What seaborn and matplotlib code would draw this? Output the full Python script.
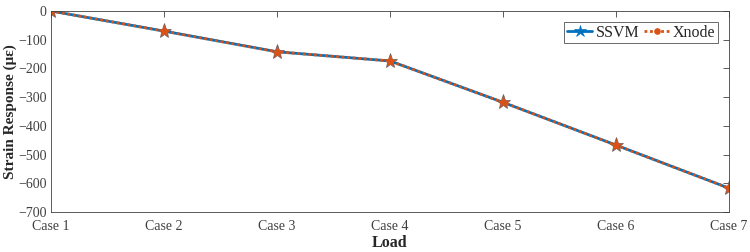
import pandas as pd
import numpy as np
import matplotlib
matplotlib.use('Agg')
import matplotlib.pyplot as plt
import seaborn as sns

sns.set_style('white')
plt.rcParams['font.family'] = ['Liberation Serif', 'DejaVu Serif']

# data
cases = ['Case 1', 'Case 2', 'Case 3', 'Case 4', 'Case 5', 'Case 6', 'Case 7']
ssvm = [0, -70, -142, -174, -318, -467, -617]
xnode = [0, -70, -142, -174, -318, -467, -617]

df = pd.DataFrame({
    'Load': list(range(len(cases))) * 2,
    'Strain': ssvm + xnode,
    'Method': ['SSVM'] * len(cases) + ['Xnode'] * len(cases),
})

fig = plt.figure(figsize=(7.5, 2.52), dpi=100)
ax = fig.add_axes([51 / 750, 1 - 212 / 252, (729 - 51) / 750, (212 - 11) / 252])

palette = {'SSVM': '#0072BD', 'Xnode': '#D95319'}
sns.lineplot(data=df, x='Load', y='Strain', hue='Method', style='Method',
             palette=palette, markers={'SSVM': '*', 'Xnode': 'o'},
             dashes={'SSVM': '', 'Xnode': (1, 1)}, linewidth=2,
             markersize=7, markeredgecolor=None, ax=ax)
# markers look orange with a thin dark rim in the reference
for line in ax.get_lines():
    if line.get_marker() == '*':
        line.set_markersize(11)
        line.set_markerfacecolor('#D95319')
        line.set_markeredgecolor('#6a5a5a')
        line.set_markeredgewidth(0.5)
    elif line.get_marker() == 'o':
        line.set_markersize(4)
        line.set_markerfacecolor('#D95319')
        line.set_markeredgecolor('#D95319')

ax.set_xlim(0, len(cases) - 1)
ax.set_ylim(-700, 0)
ax.set_xticks(range(len(cases)))
ax.set_xticklabels(cases)
ax.set_yticks(np.arange(-700, 1, 100))
ax.set_xlabel('Load', fontsize=11.5, fontweight='bold', labelpad=1, color='#262626')
ax.set_ylabel('Strain Response (\u03bc\u03b5)', fontsize=11, fontweight='bold',
              color='#262626')
ax.yaxis.set_label_coords(-0.05, 0.5)

ax.tick_params(direction='in', length=4, width=0.6, colors='#404040',
               labelsize=10, top=True, right=True, pad=3)
ax.tick_params(axis='x', pad=6)
for sp in ax.spines.values():
    sp.set_color('#404040')
    sp.set_linewidth(0.6)
ax.grid(False)

leg = ax.legend(title=None, loc='upper right', ncol=2, fontsize=11.5,
                frameon=True, fancybox=False, handlelength=1.6,
                handletextpad=0.2, columnspacing=0.3, borderpad=0.15,
                borderaxespad=0.7)
leg.get_frame().set_edgecolor('#262626')
leg.get_frame().set_linewidth(0.6)
for h in leg.legend_handles:
    if h.get_marker() == '*':
        h.set_markerfacecolor('#0072BD')
        h.set_markeredgecolor('#0072BD')
        h.set_markersize(9)

fig.savefig('out.png', dpi=100)
